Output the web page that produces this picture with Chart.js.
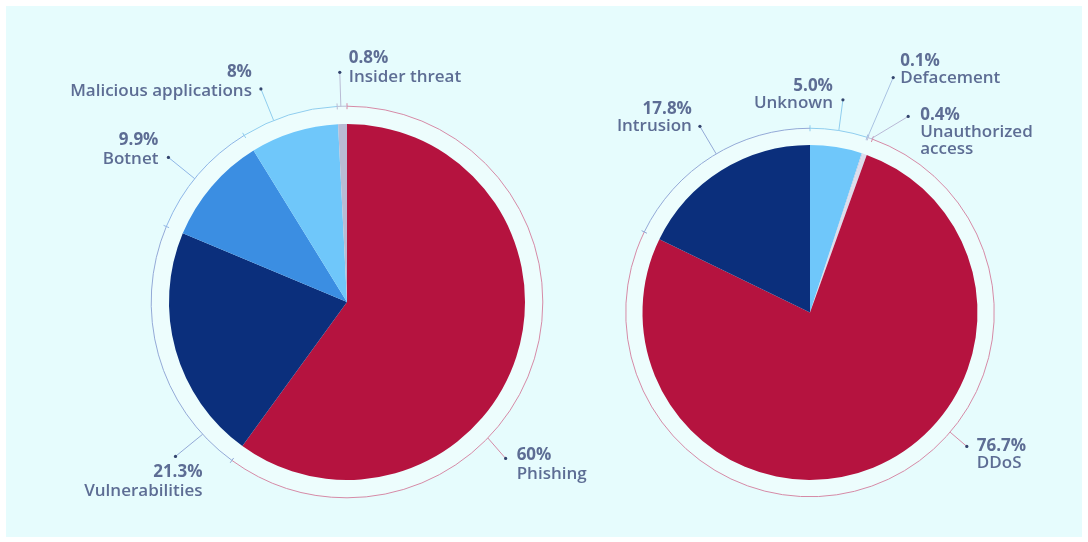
<!DOCTYPE html>
<html>
<head>
<meta charset="utf-8">
<script src="https://cdn.jsdelivr.net/npm/chart.js@4/dist/chart.umd.min.js"></script>
<style>
  html, body { margin: 0; padding: 0; background: #ffffff; }
  #wrap { position: relative; width: 1088px; height: 542px; overflow: hidden; }
  #panel { position: absolute; left: 6px; top: 6px; width: 1076px; height: 531px; background: #e6fcfd; }
  canvas { position: absolute; left: 0; top: 0; }
</style>
</head>
<body>
<div id="wrap">
  <div id="panel"></div>
  <canvas id="threats" width="1088" height="542"></canvas>
  <canvas id="incidents" width="1088" height="542"></canvas>
</div>
<script>
// threat sources (left pie)
const threatLabels = ["Phishing", "Vulnerabilities", "Botnet", "Malicious applications", "Insider threat"];
const threatShares = [60, 21.3, 9.9, 8, 0.8];

// incident types (right pie)
const incidentLabels = ["Unknown", "Defacement", ["Unauthorized", "access"], "DDoS", "Intrusion"];
const incidentShares = [5.0, 0.1, 0.4, 76.7, 17.8];

const RED = "#b5133f";
const NAVY = "#0b2f7c";
const MID_BLUE = "#3b8ee2";
const LIGHT_BLUE = "#6fc7fa";
const TEXT = "#5d6d94";

// leader placement: ring angle, dot angle (deg from 12 o'clock), dot distance past ring,
// text side and offset of the first text line from the dot
const threatLeaders = [
  { ring: 134, dot: 134.6, out: 27, align: "left", dx: 11, dy: -3 },
  { ring: 227.5, dot: 228, out: 35, align: "right", dx: 27, dy: 16 },
  { ring: 309, dot: 309, out: 34, align: "right", dx: -10, dy: -17 },
  { ring: 338, dot: 338, out: 34, align: "right", dx: -9, dy: -17 },
  { ring: 358.2, dot: 358.2, out: 34, align: "left", dx: 9, dy: -14 }
];
const incidentLeaders = [
  { ring: 9, dot: 8.8, out: 31, align: "right", dx: -10, dy: -14 },
  { ring: 18.2, dot: 19.5, out: 65, align: "left", dx: 7, dy: -16 },
  { ring: 19.4, dot: 26.6, out: 35, align: "left", dx: 12, dy: -1 },
  { ring: 130.5, dot: 130.5, out: 22, align: "left", dx: 10, dy: 0 },
  { ring: 329.4, dot: 329.4, out: 32, align: "right", dx: -8, dy: -17 }
];

function toRad(deg) {
  return (deg - 90) * Math.PI / 180;
}

function makeRing(cfg) {
  return {
    id: "ring",
    beforeDatasetsDraw(chart) {
      const ctx = chart.ctx;
      const first = chart.getDatasetMeta(0).data[0];
      const R = first.outerRadius * cfg.scale;
      ctx.save();
      ctx.beginPath();
      ctx.arc(first.x, first.y, R, 0, Math.PI * 2);
      ctx.fillStyle = "rgba(255,255,255,0.3)";
      ctx.fill();
      ctx.restore();
    },
    afterDatasetsDraw(chart) {
      const ctx = chart.ctx;
      const arcs = chart.getDatasetMeta(0).data;
      const values = chart.data.datasets[0].data;
      const labels = chart.data.labels;
      const cx = arcs[0].x, cy = arcs[0].y;
      const R = arcs[0].outerRadius * cfg.scale;
      ctx.save();
      ctx.lineWidth = 1;

      // thin outer ring, one arc per slice, with ticks at the slice edges
      arcs.forEach((arc, i) => {
        ctx.strokeStyle = cfg.ringColors[i];
        ctx.beginPath();
        ctx.arc(cx, cy, R, arc.startAngle, arc.endAngle);
        ctx.stroke();
        const a = arc.startAngle;
        ctx.beginPath();
        ctx.moveTo(cx + (R - 3) * Math.cos(a), cy + (R - 3) * Math.sin(a));
        ctx.lineTo(cx + (R + 3) * Math.cos(a), cy + (R + 3) * Math.sin(a));
        ctx.stroke();
      });

      // leaders, dots and labels
      cfg.leaders.forEach((l, i) => {
        const ra = toRad(l.ring), da = toRad(l.dot);
        const x0 = cx + R * Math.cos(ra), y0 = cy + R * Math.sin(ra);
        const x1 = cx + (R + l.out) * Math.cos(da), y1 = cy + (R + l.out) * Math.sin(da);
        ctx.strokeStyle = cfg.ringColors[i];
        ctx.beginPath();
        ctx.moveTo(x0, y0);
        ctx.lineTo(x1, y1);
        ctx.stroke();
        ctx.fillStyle = "#34456e";
        ctx.beginPath();
        ctx.arc(x1, y1, 1.6, 0, Math.PI * 2);
        ctx.fill();

        const tx = x1 + l.dx;
        let ty = y1 + l.dy;
        ctx.textAlign = l.align;
        ctx.textBaseline = "middle";
        ctx.fillStyle = TEXT;
        ctx.font = '700 17px "Open Sans"';
        ctx.fillText(cfg.format(values[i]), tx, ty);
        ctx.font = '600 17px "Open Sans"';
        const lines = Array.isArray(labels[i]) ? labels[i] : [labels[i]];
        lines.forEach(line => {
          ty += cfg.lineGap;
          ctx.fillText(line, tx, ty);
        });
      });
      ctx.restore();
    }
  };
}

function drawPie(id, labels, values, colors, padding, ringCfg) {
  const ctx = document.getElementById(id).getContext("2d");
  return new Chart(ctx, {
    type: "pie",
    data: {
      labels: labels,
      datasets: [{
        data: values,
        backgroundColor: colors,
        borderWidth: 0
      }]
    },
    options: {
      responsive: false,
      animation: false,
      events: [],
      layout: { padding: padding },
      plugins: {
        legend: { display: false },
        tooltip: { enabled: false }
      }
    },
    plugins: [makeRing(ringCfg)]
  });
}

drawPie("threats", threatLabels, threatShares,
  [RED, NAVY, MID_BLUE, LIGHT_BLUE, "#b9bbd4"],
  { left: 169, right: 563, top: 124, bottom: 62 },
  {
    scale: 1.1,
    lineGap: 19,
    leaders: threatLeaders,
    ringColors: ["#d58aa6", "#93a9d6", "#8fb6e6", "#8fcdee", "#b9bbd4"],
    format: v => v + "%"
  });

drawPie("incidents", incidentLabels, incidentShares,
  [LIGHT_BLUE, "#c9cde2", "#dcdcec", RED, NAVY],
  { left: 642, right: 110, top: 145, bottom: 62 },
  {
    scale: 1.1,
    lineGap: 17,
    leaders: incidentLeaders,
    ringColors: ["#8fcdee", "#a9c2e2", "#b9b9d6", "#d58aa6", "#93a9d6"],
    format: v => v.toFixed(1) + "%"
  });
</script>
</body>
</html>
